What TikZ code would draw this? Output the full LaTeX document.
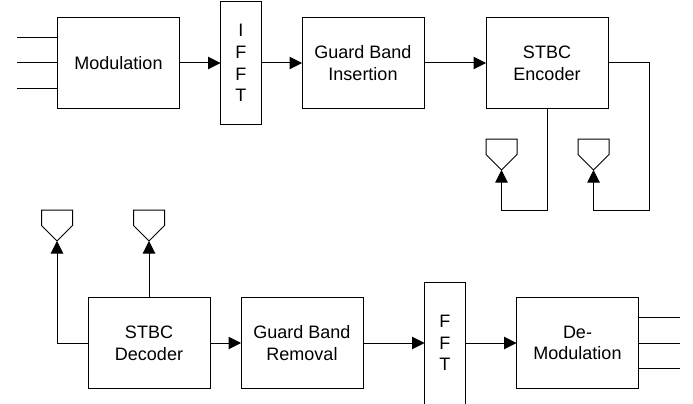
\documentclass[tikz,border=0pt]{standalone}
\usepackage{fontspec}
\setmainfont{Liberation Sans}
\usetikzlibrary{matrix}
\usetikzlibrary{arrows.meta}

\begin{document}
\begin{tikzpicture}[x=1pt,y=-1pt,>={Triangle[length=12.5pt,width=12.5pt]},line width=1pt,
	blockbox/.style={draw,align=center,inner sep=0pt,outer sep=0pt,minimum width=122pt,minimum height=91.5pt,font=\fontsize{18}{21.7}\selectfont},
	fftbox/.style={blockbox,minimum width=40.5pt,minimum height=122pt},
	antenna/.style={draw,line join=miter}
	]
	\useasboundingbox (0,0) rectangle (693,404);
	% transmitter row
	\matrix (tx) [%
	inner sep=0pt,
	anchor=west,
	ampersand replacement=\&
	] at (56.5,63)
	{
		\node[blockbox] (mod) {Modulation}; \&[40pt] \node[fftbox] (ifft) {I\\F\\F\\T}; \&[40pt] \node[blockbox] (gbi) {Guard Band\\Insertion}; \&[61pt] \node[blockbox] (enc) {STBC\\Encoder}; \\
	};
	% receiver row
	\matrix (rx) [%
	inner sep=0pt,
	anchor=west,
	ampersand replacement=\&
	] at (87,343)
	{
		\node[blockbox] (dec) {STBC\\Decoder}; \&[30pt] \node[blockbox] (gbr) {Guard Band\\Removal}; \&[60.5pt] \node[fftbox] (fft) {F\\F\\T}; \&[50.5pt] \node[blockbox] (demod) {De-\\Modulation}; \\
	};
	% antenna tips
	\coordinate (txa) at (501.5,170);
	\coordinate (txb) at (593.5,170);
	\coordinate (rxa) at (57,241);
	\coordinate (rxb) at (149,241);
	\foreach \tip in {txa,txb,rxa,rxb}
		\draw[antenna] (\tip) -- ++(-15.5,-15.5) -- ++(0,-15.5) -- ++(31,0) -- ++(0,15.5) -- cycle;
	% free ends of the bit lines
	\foreach \dy/\name in {-25.5/a,0/b,25.5/c}{
		\coordinate (in\name) at ([yshift=\dy pt]mod.west);
		\coordinate (out\name) at ([yshift=\dy pt]demod.east);
		\draw (in\name) -- ++(-41,0);
		\draw (out\name) -- ++(41,0);
	}
	\draw[->] (mod) -- (ifft);
	\draw[->] (ifft) -- (gbi);
	\draw[->] (gbi) -- (enc);
	\draw[->] (dec) -- (gbr);
	\draw[->] (gbr) -- (fft);
	\draw[->] (fft) -- (demod);
	% antenna feeds
	\coordinate (txturn) at (547.5,210);
	\coordinate (txright) at (649.5,210);
	\draw[->] (enc.south -| txturn) -- (txturn) -- (txturn -| txa) -- (txa);
	\draw[->] (enc.east) -- (enc.east -| txright) -- (txright) -- (txright -| txb) -- (txb);
	\draw[->] (dec.west) -- (dec.west -| rxa) -- (rxa);
	\draw[->] (dec.north -| rxb) -- (rxb);
\end{tikzpicture}
\end{document}
